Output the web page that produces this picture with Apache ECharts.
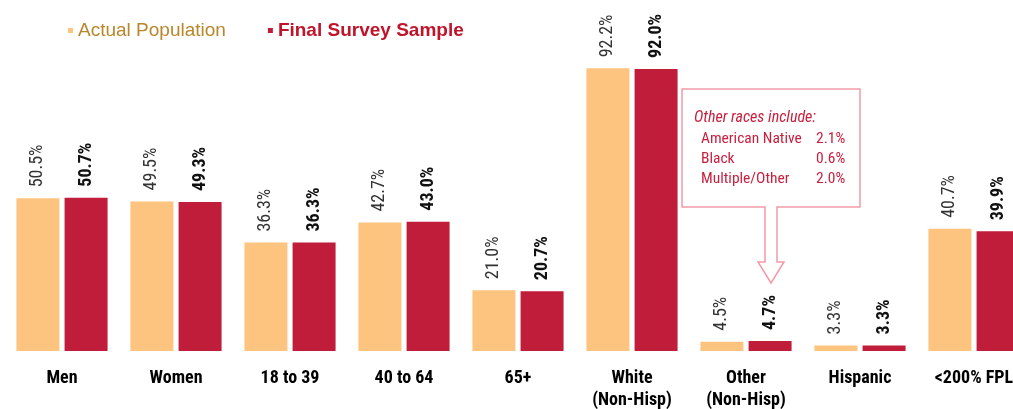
<!DOCTYPE html>
<html>
<head>
<meta charset="utf-8">
<script src="https://cdn.jsdelivr.net/npm/echarts@6/dist/echarts.min.js"></script>
<style>
html,body{margin:0;padding:0;background:#fff;}
#chart{width:1013px;height:409px;}
</style>
</head>
<body>
<div id="chart"></div>
<script>
const categories = ['Men', 'Women', '18 to 39', '40 to 64', '65+', 'White\n(Non-Hisp)', 'Other\n(Non-Hisp)', 'Hispanic', '<200% FPL'];
const actualPopulation = [50.5, 49.5, 36.3, 42.7, 21.0, 92.2, 4.5, 3.3, 40.7];
const finalSurveySample = [50.7, 49.3, 36.3, 43.0, 20.7, 92.0, 4.7, 3.3, 39.9];
const calloutTitle = 'Other races include:';
const calloutNames = ['American Native', 'Black', 'Multiple/Other'];
const calloutValues = ['2.1%', '0.6%', '2.0%'];

// ---- pick an installed narrow / condensed face ----
function pickNarrow() {
  const ctx = document.createElement('canvas').getContext('2d');
  const sample = 'Hispanic 50.5% American Native';
  const w = f => { ctx.font = f; return ctx.measureText(sample).width; };
  const mono = w('18px monospace');
  const ref = w("18px 'Liberation Sans', monospace");
  const named = ["'Liberation Sans Narrow'", "'Arial Narrow'", "'DejaVu Sans Condensed'", "'Roboto Condensed'", "'Open Sans Condensed'", "'Noto Sans Condensed'"];
  for (const fam of named) {
    const x = w('18px ' + fam + ', monospace');
    if (Math.abs(x - mono) > 0.5 && x < ref * 0.95) return { fam: fam, stretch: '', scale: 1 };
  }
  const stretchable = ["'Liberation Sans'", "'Noto Sans'", "'Open Sans'", 'Roboto', 'Inter', "'DejaVu Sans'"];
  for (const fam of stretchable) {
    const a = w('18px ' + fam + ', monospace');
    const b = w('condensed 18px ' + fam + ', monospace');
    if (Math.abs(a - mono) > 0.5 && b < a * 0.93) {
      return { fam: fam, stretch: ' condensed', scale: Math.min(1, ref * 0.82 / b) };
    }
  }
  return { fam: "'Liberation Sans', Arial", stretch: '', scale: 0.84 };
}
const NF = pickNarrow();
const NARROW = NF.fam + ", 'Liberation Sans', Arial, sans-serif";
const fs = v => Math.round(v * NF.scale * 10) / 10;
const wt = b => (b ? 'bold' : 'normal') + NF.stretch;

const SANS = "'Liberation Sans', Arial, sans-serif";
const ORANGE = '#FCC47F';
const RED = '#BF1D39';
const CALLOUT_RED = '#C8203F';
const CALLOUT_STROKE = '#F29AA8';

const chart = echarts.init(document.getElementById('chart'));

const calloutFont = (italic, size) => (italic ? 'italic ' : 'normal ') + wt(false) + ' ' + fs(size) + 'px ' + NARROW;
const graphics = [
  {
    type: 'polygon', z: 10,
    shape: { points: [[682, 89], [860, 89], [860, 207], [777, 207], [777, 262], [784, 262], [771, 283], [758, 262], [765, 262], [765, 207], [682, 207]] },
    style: { fill: '#fff', stroke: CALLOUT_STROKE, lineWidth: 1.5 }
  },
  { type: 'text', z: 20, x: 694, y: 118,
    style: { text: calloutTitle, fill: CALLOUT_RED, font: calloutFont(true, 16), textVerticalAlign: 'middle', verticalAlign: 'middle' } }
];
calloutNames.forEach((n, i) => {
  graphics.push({ type: 'text', z: 20, x: 701, y: 139 + i * 20,
    style: { text: n, fill: CALLOUT_RED, font: calloutFont(false, 15.5), textVerticalAlign: 'middle', verticalAlign: 'middle' } });
  graphics.push({ type: 'text', z: 20, x: 816, y: 139 + i * 20,
    style: { text: calloutValues[i], fill: CALLOUT_RED, font: calloutFont(false, 15.5), textVerticalAlign: 'middle', verticalAlign: 'middle' } });
});

const labelFmt = p => p.value.toFixed(1) + '%';

chart.setOption({
  animation: false,
  backgroundColor: '#fff',
  legend: {
    left: 63, top: 16,
    icon: 'rect', itemWidth: 5, itemHeight: 5, itemGap: 42,
    textStyle: { fontFamily: SANS, fontSize: 19 },
    data: [
      { name: 'Actual Population', textStyle: { color: '#B8862B' } },
      { name: 'Final Survey Sample', textStyle: { color: '#C0142A', fontWeight: 'bold' } }
    ]
  },
  grid: { left: 5, width: 1026, top: 44, bottom: 58, containLabel: false, outerBoundsMode: 'none' },
  xAxis: {
    type: 'category', data: categories,
    axisLine: { show: false }, axisTick: { show: false },
    axisLabel: { interval: 0, margin: 16, color: '#000', fontFamily: NARROW, fontSize: fs(18), fontWeight: wt(true), lineHeight: 22 }
  },
  yAxis: { type: 'value', min: 1.5, max: 100, show: false, splitLine: { show: false } },
  series: [
    {
      name: 'Actual Population', type: 'bar', data: actualPopulation,
      barWidth: 43, barGap: '12%', itemStyle: { color: ORANGE },
      label: { show: true, position: 'top', rotate: 90, align: 'left', verticalAlign: 'middle', distance: 11,
        fontFamily: NARROW, fontSize: fs(18), fontWeight: wt(false), color: '#333', formatter: labelFmt }
    },
    {
      name: 'Final Survey Sample', type: 'bar', data: finalSurveySample,
      barWidth: 43, itemStyle: { color: RED },
      label: { show: true, position: 'top', rotate: 90, align: 'left', verticalAlign: 'middle', distance: 11,
        fontFamily: NARROW, fontSize: fs(18), fontWeight: wt(true), color: '#111', formatter: labelFmt }
    }
  ],
  graphic: graphics
});
</script>
</body>
</html>
